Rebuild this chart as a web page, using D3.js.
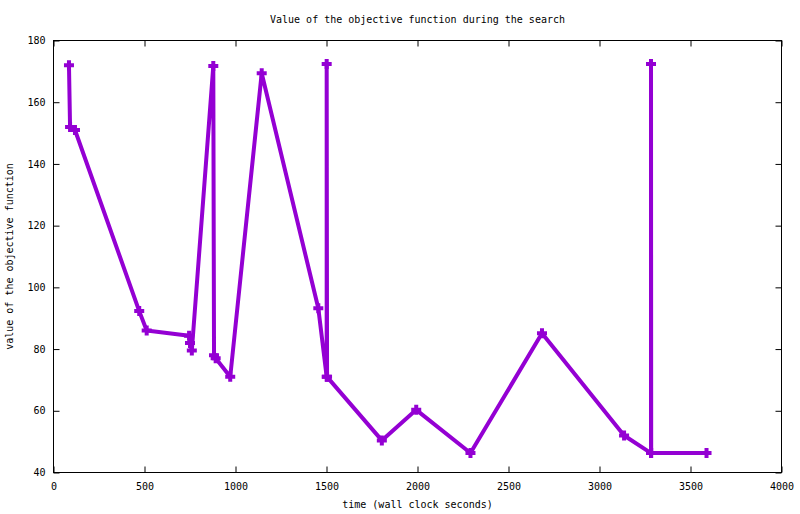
<!DOCTYPE html>
<body style="margin:0;background:#fff">

<script src="https://cdn.jsdelivr.net/npm/d3@7/dist/d3.min.js"></script>
<script>

  // search trace (time in wall clock seconds)
  const times  = [85, 91, 118, 471, 512, 745, 750, 760, 878, 882, 891, 971, 1144, 1455, 1501, 1501, 1503,
                  1804, 1993, 2291, 2684, 3135, 3283, 3283, 3284, 3588]
  const values = [172, 152, 151, 92.3, 86, 84.3, 82, 79.5, 171.7, 78, 77, 71, 169.4, 93.2, 71, 172.4, 71,
                  50.4, 60.3, 46.3, 85.1, 52, 46.3, 172.4, 46.3, 46.3]

  const xTicks = [0, 500, 1000, 1500, 2000, 2500, 3000, 3500, 4000]
  const yTicks = [40, 60, 80, 100, 120, 140, 160, 180]

  const title  = 'Value of the objective function during the search',
        xLabel = 'time (wall clock seconds)',
        yLabel = 'value of the objective function'

  const margin = {left: 53.5, top: 40.5, right: 18.5, bottom: 41.5}
  const width = 800 - margin.left - margin.right,
        height = 514 - margin.top - margin.bottom,
        color = '#9400D3',
        font = "'DejaVu Sans Mono', monospace"

  const data = times.map((t, i) => ({t: t, v: values[i]}))

  const xScale = d3.scaleLinear()
    .domain([0, 4000])
    .range([0, width])
  const yScale = d3.scaleLinear()
    .domain([40, 180])
    .range([height, 0])

  const svg = d3.select('body').append('svg')
      .attr('width', 800)
      .attr('height', 514)
      .style('display', 'block')

  const g = svg.append('g')
      .attr('transform', `translate(${margin.left}, ${margin.top})`)

  // ticks point inwards on all four sides, like gnuplot
  function styleAxis(sel){
    sel.select('.domain').remove()
    sel.selectAll('line').attr('stroke', '#000')
    sel.selectAll('text')
        .style('font-family', font)
        .style('font-size', '10px')
        .attr('fill', '#000')
  }

  g.append('g')
      .attr('transform', `translate(0, ${height})`)
    .call(d3.axisBottom(xScale).tickValues(xTicks).tickSize(-6).tickPadding(10).tickFormat(d3.format('d')))
    .call(styleAxis)
  g.append('g')
    .call(d3.axisTop(xScale).tickValues(xTicks).tickSize(-6).tickFormat(''))
    .call(styleAxis)
  g.append('g')
    .call(d3.axisLeft(yScale).tickValues(yTicks).tickSize(-6).tickPadding(8).tickFormat(d3.format('d')))
    .call(styleAxis)
  g.append('g')
      .attr('transform', `translate(${width}, 0)`)
    .call(d3.axisRight(yScale).tickValues(yTicks).tickSize(-6).tickFormat(''))
    .call(styleAxis)

  g.append('rect')
      .attr('width', width)
      .attr('height', height)
      .attr('fill', 'none')
      .attr('stroke', '#000')
      .attr('stroke-width', 1)

  const line = d3.line()
    .x(d => xScale(d.t))
    .y(d => yScale(d.v))

  g.append('path')
      .datum(data)
      .attr('d', line)
      .attr('fill', 'none')
      .attr('stroke', color)
      .attr('stroke-width', 4)
      .attr('stroke-linejoin', 'round')

  g.selectAll('.marker')
      .data(data)
    .enter().append('path')
      .attr('class', 'marker')
      .attr('transform', d => `translate(${xScale(d.t)}, ${yScale(d.v)})`)
      .attr('d', 'M-5,0H5M0,-5V5')
      .attr('stroke', color)
      .attr('stroke-width', 4)

  svg.append('text')
      .attr('x', margin.left + width/2)
      .attr('y', 23)
      .style('text-anchor', 'middle')
      .style('font-family', font)
      .style('font-size', '10px')
      .text(title)

  svg.append('text')
      .attr('x', margin.left + width/2)
      .attr('y', 508)
      .style('text-anchor', 'middle')
      .style('font-family', font)
      .style('font-size', '10px')
      .text(xLabel)

  svg.append('text')
      .attr('transform', `translate(13, ${margin.top + height/2}) rotate(-90)`)
      .style('text-anchor', 'middle')
      .style('font-family', font)
      .style('font-size', '10px')
      .text(yLabel)

</script>
